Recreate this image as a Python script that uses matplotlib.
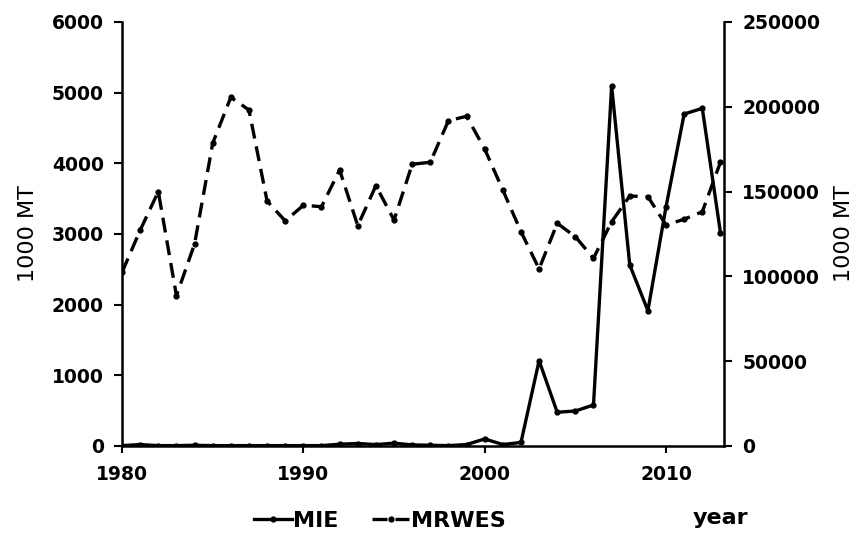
import matplotlib.pyplot as plt
import numpy as np

plt.rcParams['font.family'] = ['DejaVu Sans']

years = list(range(1980, 2014))

# MIE, left axis (1000 MT)
mie = [5, 20, 5, 5, 10, 5, 5, 5, 5, 5, 5, 5, 25, 35, 20, 40, 15, 10, 5, 20,
       100, 20, 50, 1207, 477, 495, 580, 5094, 2561, 1915, 3386, 4698, 4778, 3019]

# MRWES, right axis (1000 MT)
mrwes = [102400, 127200, 150000, 88600, 119100, 178500, 205600, 198100, 144400, 132700,
         141900, 141100, 162700, 129900, 153500, 133200, 166100, 167300, 191800, 194400,
         175100, 150900, 126400, 104400, 131300, 123400, 110700, 132200, 147400, 147000,
         130300, 133700, 138100, 167300]

left_ticks = [0, 1000, 2000, 3000, 4000, 5000, 6000]
right_ticks = [0, 50000, 100000, 150000, 200000, 250000]
x_ticks = [1980, 1990, 2000, 2010]

fig = plt.figure(figsize=(8.63, 5.35), dpi=100)
ax = fig.add_axes([0.1414, 0.1664, 0.6976, 0.7925])
ax2 = ax.twinx()

tick_font = dict(fontsize=13.5, fontweight='bold')

l1, = ax.plot(years, mie, color='black', lw=2.4, marker='o', ms=3.5,
              label='MIE', zorder=3)
l2, = ax2.plot(years, mrwes, color='black', lw=2.4, marker='o', ms=3.5,
               dashes=(4.5, 2.4), label='MRWES')

ax.set_xlim(1980, 2013.2)
ax.set_ylim(0, 6000)
ax2.set_ylim(0, 250000)

ax.set_xticks(x_ticks)
ax.set_xticks(years, minor=True)
ax.set_yticks(left_ticks)
ax2.set_yticks(right_ticks)
ax.set_xticklabels([str(t) for t in x_ticks], **tick_font)
ax.set_yticklabels([str(t) for t in left_ticks], **tick_font)
ax2.set_yticklabels([str(t) for t in right_ticks], **tick_font)

for a in (ax, ax2):
    a.spines['top'].set_visible(False)
    for s in a.spines.values():
        s.set_linewidth(1.8)
ax.spines['right'].set_visible(False)
ax2.spines['left'].set_visible(False)
ax2.spines['bottom'].set_visible(False)

ax.tick_params(axis='y', length=6, width=1.5, pad=7)
ax2.tick_params(axis='y', length=6, width=1.5, pad=7)
ax.tick_params(axis='x', length=5, width=1.5, pad=9)
ax.tick_params(axis='x', which='minor', length=0)

ax.set_ylabel('1000 MT', fontsize=16, labelpad=10)
ax2.set_ylabel('1000 MT', fontsize=16, labelpad=10)

fig.legend(handles=[l1, l2], loc='center', bbox_to_anchor=(0.44, 0.026),
           ncol=2, frameon=False, handlelength=1.7, handletextpad=0.05,
           columnspacing=1.5, prop=dict(size=16, weight='bold'))
fig.text(0.835, 0.032, 'year', fontsize=16, fontweight='bold', ha='center', va='center')

fig.savefig('out.png', dpi=100)
